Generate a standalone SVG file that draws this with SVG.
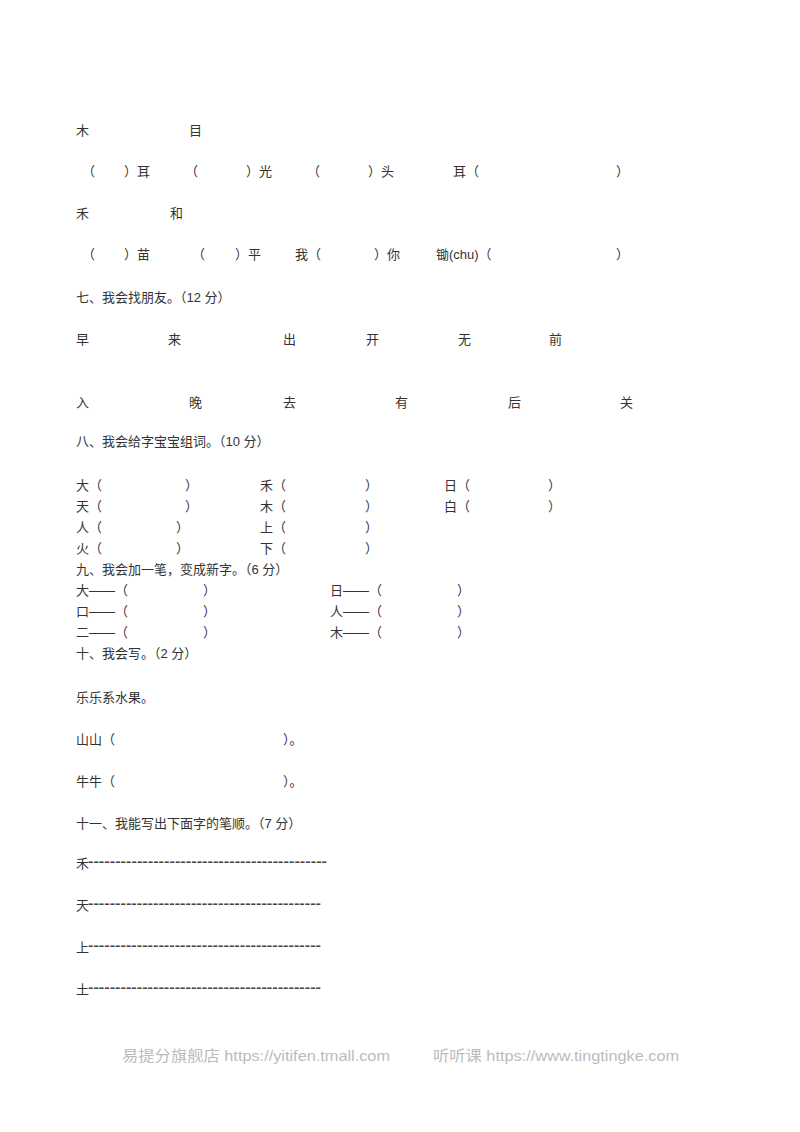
<svg xmlns="http://www.w3.org/2000/svg" width="800" height="1132" viewBox="0 0 800 1132">
<style>
text{font-family:"Liberation Sans","Noto Sans CJK SC",sans-serif;font-size:13px;fill:#333}
.w{fill:#bbb;font-size:15px}
.d{font-weight:bold;fill:#444}
</style>
<rect width="800" height="1132" fill="#fff"/>
<text x="76" y="135">木</text><text x="189" y="135">目</text>
<text x="82" y="176">（</text><text x="124" y="176">）耳</text><text x="185" y="176">（</text><text x="246" y="176">）光</text><text x="307" y="176">（</text><text x="368" y="176">）头</text><text x="453" y="176">耳（</text><text x="616" y="176">）</text>
<text x="76" y="218">禾</text><text x="170" y="218">和</text>
<text x="82" y="259">（</text><text x="124" y="259">）苗</text><text x="192" y="259">（</text><text x="235" y="259">）平</text><text x="295" y="259">我（</text><text x="374" y="259">）你</text><text x="436" y="259">锄(chu)（</text><text x="616" y="259">）</text>
<text x="76" y="302">七、我会找朋友。（12 分）</text>
<text x="76" y="344">早</text><text x="168" y="344">来</text><text x="283" y="344">出</text><text x="366" y="344">开</text><text x="458" y="344">无</text><text x="549" y="344">前</text>
<text x="76" y="407">入</text><text x="189" y="407">晚</text><text x="283" y="407">去</text><text x="395" y="407">有</text><text x="508" y="407">后</text><text x="620" y="407">关</text>
<text x="76" y="446">八、我会给字宝宝组词。（10 分）</text>
<text x="76" y="490">大（</text><text x="185" y="490">）</text><text x="260" y="490">禾（</text><text x="365" y="490">）</text><text x="444" y="490">日（</text><text x="548" y="490">）</text>
<text x="76" y="511">天（</text><text x="185" y="511">）</text><text x="260" y="511">木（</text><text x="365" y="511">）</text><text x="444" y="511">白（</text><text x="548" y="511">）</text>
<text x="76" y="532">人（</text><text x="176" y="532">）</text><text x="260" y="532">上（</text><text x="365" y="532">）</text>
<text x="76" y="553">火（</text><text x="176" y="553">）</text><text x="260" y="553">下（</text><text x="365" y="553">）</text>
<text x="76" y="574">九、我会加一笔，变成新字。（6 分）</text>
<text x="76" y="595">大——（</text><text x="203" y="595">）</text><text x="330" y="595">日——（</text><text x="457" y="595">）</text>
<text x="76" y="616">口——（</text><text x="203" y="616">）</text><text x="330" y="616">人——（</text><text x="457" y="616">）</text>
<text x="76" y="637">二——（</text><text x="203" y="637">）</text><text x="330" y="637">木——（</text><text x="457" y="637">）</text>
<text x="76" y="658">十、我会写。（2 分）</text>
<text x="76" y="702">乐乐系水果。</text>
<text x="76" y="744">山山（</text><text x="283" y="744">）。</text>
<text x="76" y="786">牛牛（</text><text x="283" y="786">）。</text>
<text x="76" y="828">十一、我能写出下面字的笔顺。（7 分）</text>
<text x="76" y="868">禾</text><text class="d" x="88" y="866" textLength="239" lengthAdjust="spacingAndGlyphs">--------------------------------------------</text>
<text x="76" y="910">天</text><text class="d" x="88" y="908" textLength="233" lengthAdjust="spacingAndGlyphs">-------------------------------------------</text>
<text x="76" y="952">上</text><text class="d" x="88" y="950" textLength="233" lengthAdjust="spacingAndGlyphs">-------------------------------------------</text>
<text x="76" y="994">土</text><text class="d" x="88" y="992" textLength="233" lengthAdjust="spacingAndGlyphs">-------------------------------------------</text>
<text class="w" x="122" y="1061" textLength="268" lengthAdjust="spacingAndGlyphs">易提分旗舰店  https://yitifen.tmall.com</text>
<text class="w" x="433" y="1061" textLength="246" lengthAdjust="spacingAndGlyphs">听听课  https://www.tingtingke.com</text>
</svg>
